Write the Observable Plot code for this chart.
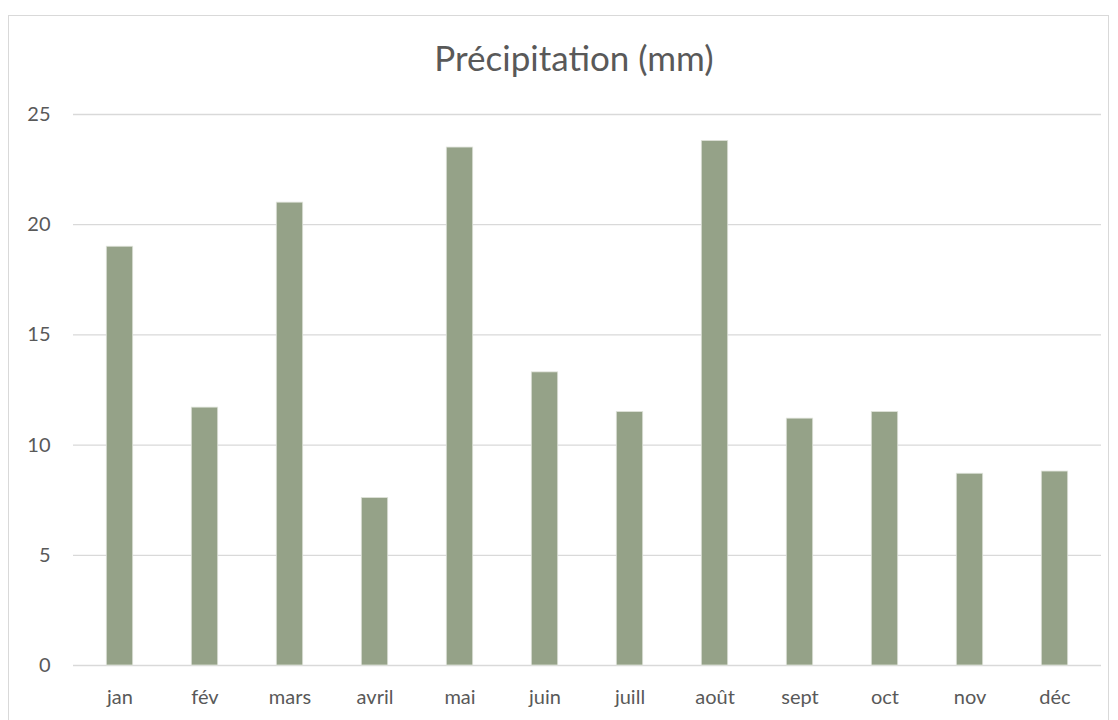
<!DOCTYPE html>
<html>
<head>
<meta charset="utf-8">
<script src="https://cdn.jsdelivr.net/npm/d3@7"></script>
<script src="https://cdn.jsdelivr.net/npm/@observablehq/plot@0.6"></script>
<style>
  html, body { margin: 0; padding: 0; background: #fff; width: 1118px; height: 720px; overflow: hidden; }
  #frame { position: absolute; left: 8px; top: 15px; width: 1101px; height: 720px; border: 1px solid #d9d9d9; box-sizing: border-box; }
  #title { position: absolute; left: 60px; width: 1028px; top: 40px; line-height: 1; text-align: center; font-family: Lato, "Open Sans", sans-serif; font-size: 35px; color: #595959; }
  #chart { position: absolute; left: 0; top: 0; }
</style>
</head>
<body>
<div id="frame"></div>
<div id="title">Précipitation (mm)</div>
<div id="chart"></div>
<script>
const months = ["jan", "fév", "mars", "avril", "mai", "juin", "juill", "août", "sept", "oct", "nov", "déc"];
const precipitation = [19.0, 11.7, 21.0, 7.6, 23.5, 13.3, 11.5, 23.8, 11.2, 11.5, 8.7, 8.8];
const yTicks = [0, 5, 10, 15, 20, 25];

const data = months.map((m, i) => ({month: m, value: precipitation[i]}));

const chart = Plot.plot({
  width: 1118,
  height: 720,
  marginLeft: 73,
  marginRight: 17,
  marginTop: 114,
  marginBottom: 55,
  style: {fontFamily: "Lato, 'Open Sans', sans-serif", fontSize: "20px", color: "#595959", background: "transparent"},
  x: {domain: months, padding: 0, label: null},
  y: {domain: [0, 25], label: null},
  marks: [
    Plot.ruleY(yTicks, {stroke: "#d9d9d9", strokeWidth: 1.3}),
    Plot.barY(data, {x: "month", y: "value", fill: "#95a288", stroke: "#dfe3da", strokeWidth: 0.8, insetLeft: 29.3, insetRight: 29.3}),
    Plot.axisY(yTicks, {tickSize: 0, tickPadding: 23, fill: "#595959", fontSize: 20}),
    Plot.axisX({tickSize: 0, tickPadding: 24, fill: "#595959", fontSize: 20})
  ]
});
document.getElementById("chart").appendChild(chart);
</script>
</body>
</html>
